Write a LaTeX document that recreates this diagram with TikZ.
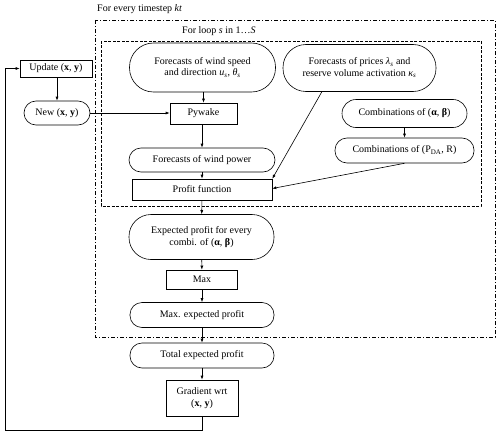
\documentclass[tikz,border=0pt]{standalone}
\usepackage{fontspec}
\setmainfont{Liberation Serif}
\usetikzlibrary{arrows.meta}
\begin{document}
\begin{tikzpicture}[x=1pt,y=-1pt,
  every node/.style={font=\fontsize{10}{11.5}\selectfont, inner sep=1pt},
  box/.style={draw, line width=0.6pt, align=center},
  stad/.style={draw, line width=0.6pt, align=center, rounded corners=#1},
  stad/.default=12pt,
  arr/.style={-{Latex[length=4pt,width=3pt]}, line width=0.6pt},
  outerbox/.style={line width=0.8pt, dash pattern=on 4pt off 2pt on 1pt off 2pt},
  innerbox/.style={line width=0.8pt, dash pattern=on 3pt off 1.5pt}]
\useasboundingbox (0,0) rectangle (500,436);
% frames
\draw[outerbox] (95,20) rectangle (495,337);
\draw[innerbox] (101,41) rectangle (481,206);
\node[anchor=west] (lblouter) at (96,9) {For every timestep \textit{kt}};
\node[anchor=west] (lblinner) at (181,31) {For loop \textit{s} in 1…\textit{S}};
% nodes
\node[box, minimum width=72pt, minimum height=17pt] (upd) at (56,68.5) {Update (\textbf{x}, \textbf{y})};
\node[stad, minimum width=66pt, minimum height=24pt] (new) at (57,113) {New (\textbf{x}, \textbf{y})};
\node[stad=24pt, minimum width=146pt, minimum height=49pt] (wind) at (202.5,67.5) {Forecasts of wind speed\\and direction \textit{u}\textsubscript{\textit{s}}, \textit{θ}\textsubscript{\textit{s}}};
\node[box, minimum width=67pt, minimum height=21pt] (pyw) at (203.5,113.5) {Pywake};
\node[stad, minimum width=146pt, minimum height=24pt] (pow) at (202,160) {Forecasts of wind power};
\node[box, minimum width=140pt, minimum height=21pt] (prof) at (202,189.5) {Profit function};
\node[stad=23pt, minimum width=153pt, minimum height=47pt] (price) at (359.5,68) {Forecasts of prices \textit{λ}\textsubscript{\textit{s}} and\\reserve volume activation \textit{κ}\textsubscript{\textit{s}}};
\node[stad=14pt, minimum width=125pt, minimum height=28pt] (ab) at (404.5,113.5) {Combinations of (\textbf{α}, \textbf{β})};
\node[stad, minimum width=139pt, minimum height=25pt] (pda) at (404.5,150.5) {Combinations of (P\textsubscript{DA}, R)};
\node[stad=22pt, minimum width=145pt, minimum height=45pt] (exp) at (201.5,237) {Expected profit for every\\combi. of (\textbf{α}, \textbf{β})};
\node[box, minimum width=71pt, minimum height=19pt] (max) at (202,279.5) {Max};
\node[stad, minimum width=144pt, minimum height=25pt] (mexp) at (202,315) {Max. expected profit};
\node[stad, minimum width=144pt, minimum height=25pt] (tot) at (202,355.5) {Total expected profit};
\node[box, minimum width=72pt, minimum height=36pt] (grad) at (202,398) {Gradient wrt\\(\textbf{x}, \textbf{y})};
\coordinate (c1) at (202,430);
\coordinate (c2) at (5,430);
\coordinate (c3) at (5,68.5);
% connectors
\draw[arr] (upd.south -| new.north) -- (new.north);
\draw[arr] (new.east) -- (pyw.west |- new.east);
\draw[arr] (wind.south -| pyw.north) -- (pyw.north);
\draw[arr] (pyw.south -| pow.north) -- (pow.north);
\draw[arr] (pow) -- (prof);
\draw[arr] (ab) -- (pda);
\draw[arr] (322,91.5) -- (prof.north east);
\draw[arr] (pda.south) -- ([yshift=1pt]prof.east);
\draw[arr] (prof) -- (exp);
\draw[arr] (exp) -- (max);
\draw[arr] (max) -- (mexp);
\draw[arr] (mexp) -- (tot);
\draw[arr] (tot) -- (grad);
\draw[arr] (grad.south) -- (c1) -- (c2) -- (c3) -- (upd.west);
\end{tikzpicture}
\end{document}
